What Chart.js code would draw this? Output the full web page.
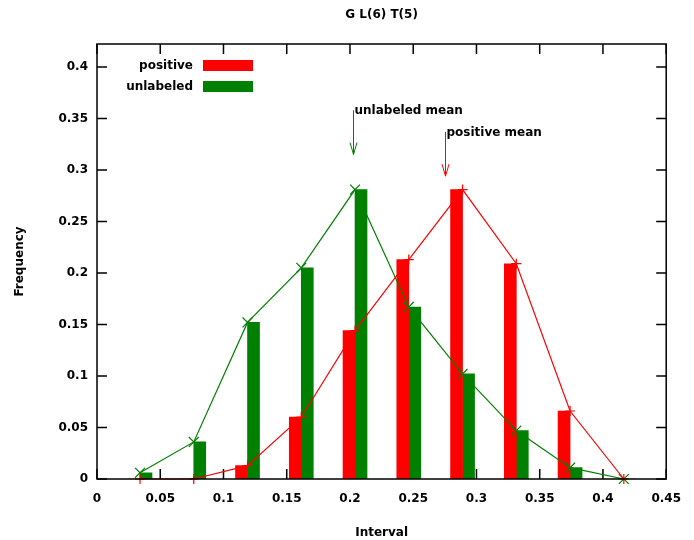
<!DOCTYPE html>
<html>
<head>
<meta charset="utf-8">
<script src="https://cdn.jsdelivr.net/npm/chart.js@4.4.0/dist/chart.umd.min.js"></script>
<style>
  body { margin: 0; background: #ffffff; }
  canvas { display: block; }
</style>
</head>
<body>
<canvas id="histChart" width="694" height="540"></canvas>
<script>
// histogram data
var binCenters = [0.034, 0.0765, 0.119, 0.1615, 0.204, 0.2465, 0.289, 0.3315, 0.374, 0.4165];
var positiveFreq = [0, 0, 0.013, 0.06, 0.144, 0.213, 0.281, 0.209, 0.066, 0];
var unlabeledFreq = [0.006, 0.036, 0.152, 0.205, 0.281, 0.167, 0.102, 0.047, 0.011, 0];

var xTicks = [0, 0.05, 0.1, 0.15, 0.2, 0.25, 0.3, 0.35, 0.4, 0.45];
var xTickLabels = ['0', '0.05', '0.1', '0.15', '0.2', '0.25', '0.3', '0.35', '0.4', '0.45'];
var yTicks = [0, 0.05, 0.1, 0.15, 0.2, 0.25, 0.3, 0.35, 0.4];
var yTickLabels = ['0', '0.05', '0.1', '0.15', '0.2', '0.25', '0.3', '0.35', '0.4'];

var seriesNames = ['positive', 'unlabeled'];
var seriesColors = ['#ff0000', '#008000'];

// mean arrows
var meanLabels = ['unlabeled mean', 'positive mean'];
var meanColors = ['#008000', '#ff0000'];
var meanX = [0.202, 0.275];
var meanTop = [0.358, 0.337];
var meanTip = [0.315, 0.294];

var boldFont = 'bold 12px "DejaVu Sans", sans-serif';

function toPoints(values) {
    return binCenters.map(function(x, i) { return { x: x, y: values[i] }; });
}

var gnuplotDecor = {
    id: 'gnuplotDecor',
    beforeDatasetsDraw: function(chart) {
        var ctx = chart.ctx;
        var area = chart.chartArea;
        var xs = chart.scales.x;
        var ys = chart.scales.y;
        var len = 10;
        ctx.save();
        ctx.strokeStyle = '#000000';
        ctx.lineWidth = 1.5;
        ctx.beginPath();
        xTicks.forEach(function(v) {
            var px = xs.getPixelForValue(v);
            ctx.moveTo(px, area.bottom);
            ctx.lineTo(px, area.bottom - len);
            ctx.moveTo(px, area.top);
            ctx.lineTo(px, area.top + len);
        });
        yTicks.forEach(function(v) {
            var py = ys.getPixelForValue(v);
            ctx.moveTo(area.left, py);
            ctx.lineTo(area.left + len, py);
            ctx.moveTo(area.right, py);
            ctx.lineTo(area.right - len, py);
        });
        ctx.stroke();
        ctx.restore();
    },
    afterDraw: function(chart) {
        var ctx = chart.ctx;
        var area = chart.chartArea;
        var xs = chart.scales.x;
        var ys = chart.scales.y;
        ctx.save();

        // frame
        ctx.strokeStyle = '#000000';
        ctx.lineWidth = 1.5;
        ctx.strokeRect(area.left, area.top, area.right - area.left, area.bottom - area.top);

        // title
        ctx.fillStyle = '#000000';
        ctx.font = boldFont;
        ctx.textAlign = 'center';
        ctx.textBaseline = 'middle';
        ctx.fillText('G L(6) T(5)', (area.left + area.right) / 2, 15);

        // legend, gnuplot style
        ctx.textAlign = 'right';
        seriesNames.forEach(function(name, i) {
            var cy = area.top + 22 + i * 21;
            ctx.fillStyle = '#000000';
            ctx.fillText(name, area.left + 96, cy);
            ctx.fillStyle = seriesColors[i];
            ctx.fillRect(area.left + 106, cy - 6, 50, 11);
        });

        // mean arrows
        ctx.lineWidth = 1;
        meanLabels.forEach(function(label, i) {
            var px = Math.round(xs.getPixelForValue(meanX[i])) + 0.5;
            var top = ys.getPixelForValue(meanTop[i]);
            var tip = ys.getPixelForValue(meanTip[i]);
            ctx.strokeStyle = meanColors[i];
            ctx.beginPath();
            ctx.moveTo(px, top);
            ctx.lineTo(px, tip);
            ctx.moveTo(px - 3.5, tip - 12);
            ctx.lineTo(px, tip);
            ctx.lineTo(px + 3.5, tip - 12);
            ctx.stroke();
            ctx.fillStyle = '#000000';
            ctx.textAlign = 'left';
            ctx.fillText(label, px + 1, top + 1);
        });

        ctx.restore();
    }
};

var ctx = document.getElementById('histChart');
new Chart(ctx, {
    data: {
        datasets: [{
            type: 'line',
            label: 'positive line',
            data: toPoints(positiveFreq),
            borderColor: seriesColors[0],
            borderWidth: 1.2,
            pointStyle: 'cross',
            pointRadius: 5,
            pointBorderColor: seriesColors[0],
            pointBorderWidth: 1.2,
            fill: false,
            tension: 0,
            clip: false,
            order: 0
        }, {
            type: 'line',
            label: 'unlabeled line',
            data: toPoints(unlabeledFreq),
            borderColor: seriesColors[1],
            borderWidth: 1.2,
            pointStyle: 'crossRot',
            pointRadius: 7,
            pointBorderColor: seriesColors[1],
            pointBorderWidth: 1.2,
            fill: false,
            tension: 0,
            clip: false,
            order: 0
        }, {
            type: 'bar',
            label: seriesNames[0],
            data: toPoints(positiveFreq),
            backgroundColor: seriesColors[0],
            barThickness: 12,
            order: 1
        }, {
            type: 'bar',
            label: seriesNames[1],
            data: toPoints(unlabeledFreq),
            backgroundColor: seriesColors[1],
            barThickness: 12,
            order: 1
        }]
    },
    options: {
        responsive: false,
        animation: false,
        events: [],
        layout: { padding: { left: 0, right: 26, top: 44, bottom: 0 } },
        plugins: {
            legend: { display: false },
            tooltip: { enabled: false },
            title: { display: false }
        },
        scales: {
            x: {
                type: 'linear',
                offset: false,
                min: 0,
                max: 0.45,
                grid: { display: false, drawTicks: false, offset: false },
                border: { display: false },
                afterFit: function(scale) { scale.height = 61; },
                afterBuildTicks: function(scale) {
                    scale.ticks = xTicks.map(function(v) { return { value: v }; });
                },
                ticks: {
                    padding: 13,
                    color: '#000000',
                    font: { family: '"DejaVu Sans", sans-serif', size: 12, weight: 'bold' },
                    callback: function(value, index) { return xTickLabels[index]; }
                },
                title: {
                    display: true,
                    text: 'Interval',
                    color: '#000000',
                    padding: { top: 0, bottom: 0 },
                    font: { family: '"DejaVu Sans", sans-serif', size: 12, weight: 'bold' }
                }
            },
            y: {
                type: 'linear',
                min: 0,
                max: 0.4223,
                grid: { display: false, drawTicks: false },
                border: { display: false },
                afterFit: function(scale) { scale.width = 97; },
                afterBuildTicks: function(scale) {
                    scale.ticks = yTicks.map(function(v) { return { value: v }; });
                },
                ticks: {
                    padding: 9,
                    color: '#000000',
                    font: { family: '"DejaVu Sans", sans-serif', size: 12, weight: 'bold' },
                    callback: function(value, index) { return yTickLabels[index]; }
                },
                title: {
                    display: true,
                    text: 'Frequency',
                    color: '#000000',
                    padding: { top: 13, bottom: 0 },
                    font: { family: '"DejaVu Sans", sans-serif', size: 12, weight: 'bold' }
                }
            }
        }
    },
    plugins: [gnuplotDecor]
});
</script>
</body>
</html>
